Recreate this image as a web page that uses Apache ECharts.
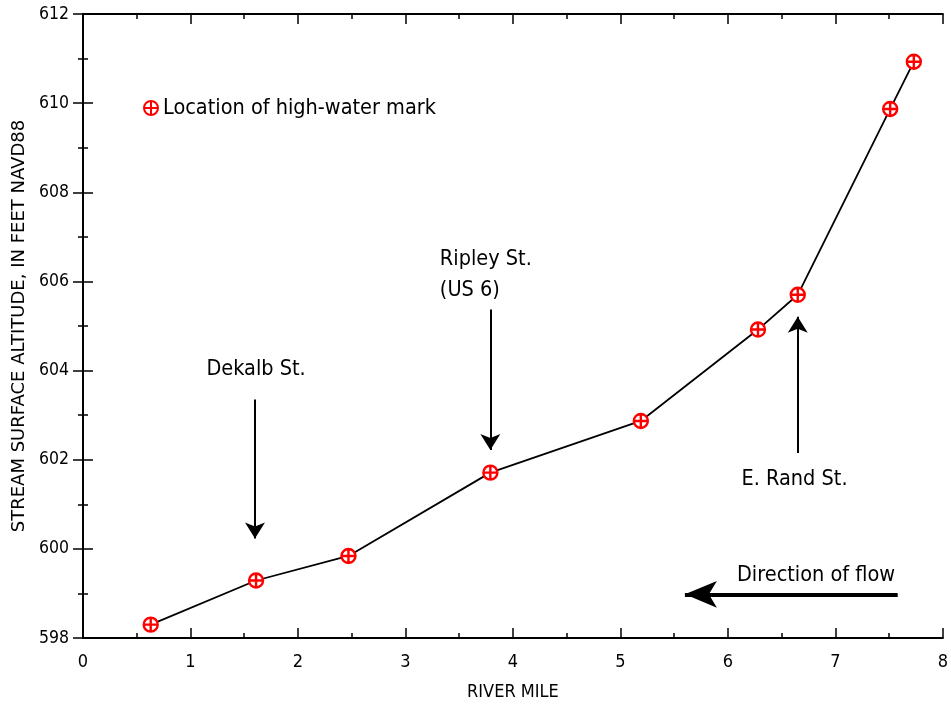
<!DOCTYPE html>
<html><head><meta charset="utf-8">
<script src="https://cdn.jsdelivr.net/npm/echarts@6/dist/echarts.min.js"></script>
<style>html,body{margin:0;padding:0;background:#fff}#c{width:951px;height:710px}</style>
</head><body><div id="c"></div>
<script>
const riverMile = [0.63, 1.61, 2.47, 3.79, 5.19, 6.28, 6.65, 7.51, 7.73];
const altitude  = [598.30, 599.29, 599.84, 601.71, 602.87, 604.92, 605.70, 609.87, 610.93];
const xTicks = [0, 1, 2, 3, 4, 5, 6, 7, 8];
const yTicks = [598, 600, 602, 604, 606, 608, 610, 612];
const seriesName = 'Location of high-water mark';
// annotations: [label, x, yStart, yEnd]
const bridgeArrows = [
  ['Dekalb St.', 1.60, 603.35, 600.23],
  ['Ripley St.', 3.79, 605.37, 602.22],
  ['E. Rand St.', 6.65, 602.15, 605.21]
];
const bridgeLabels = [
  ['Dekalb St.', 1.61, 604.02, 'center'],
  ['Ripley St.\n(US 6)', 3.32, 606.15, 'left'],
  ['E. Rand St.', 6.62, 601.55, 'center']
];
const flowArrow = {x0: 7.58, x1: 5.60, y: 598.98};
const flowLabel = {text: 'Direction of flow', x: 6.82, y: 599.40};

const FONT = '"DejaVu Sans Condensed", sans-serif';
const markerPath = 'path://M-10,0A10,10,0,1,0,10,0A10,10,0,1,0,-10,0ZM0,-10L0,10M-10,0L10,0';

const chart = echarts.init(document.getElementById('c'));
const axisCommon = {
  axisLine: {lineStyle: {color: '#000', width: 2}},
  axisTick: {inside: true, length: 10, lineStyle: {color: '#000', width: 1.5}},
  minorTick: {show: true, splitNumber: 2, length: 5, lineStyle: {color: '#000', width: 1.5}},
  splitLine: {show: false}
};
const txt = {fontFamily: FONT, color: '#000', fontWeight: 'normal'};
chart.setOption({
  animation: false,
  backgroundColor: '#fff',
  textStyle: {fontFamily: FONT},
  grid: {left: 83, right: 8, top: 14, bottom: 72},
  legend: {
    data: [{name: seriesName, icon: markerPath}],
    left: 138, top: 92, itemWidth: 14, itemHeight: 14, itemGap: 9,
    textStyle: Object.assign({fontSize: 21.5}, txt)
  },
  xAxis: [
    Object.assign({type: 'value', min: 0, max: 8, interval: 1, position: 'bottom',
      name: 'RIVER MILE', nameLocation: 'middle', nameGap: 45,
      nameTextStyle: Object.assign({fontSize: 18}, txt),
      axisLabel: Object.assign({fontSize: 18, margin: 15,
        formatter: v => xTicks.includes(v) ? String(v) : ''}, txt)}, axisCommon),
    Object.assign({type: 'value', min: 0, max: 8, interval: 1, position: 'top',
      axisLabel: {show: false}}, axisCommon)
  ],
  yAxis: [
    Object.assign({type: 'value', min: 598, max: 612, interval: 2, position: 'left',
      name: 'STREAM SURFACE ALTITUDE, IN FEET NAVD88', nameLocation: 'middle', nameGap: 55,
      nameTextStyle: Object.assign({}, txt, {fontSize: 18, fontFamily: '"DejaVu Sans", sans-serif'}),
      axisLabel: Object.assign({fontSize: 17.5, margin: 14,
        formatter: v => yTicks.includes(v) ? String(v) : ''}, txt)}, axisCommon),
    Object.assign({type: 'value', min: 598, max: 612, interval: 2, position: 'right',
      axisLabel: {show: false}}, axisCommon)
  ],
  series: [
    {
      name: seriesName, type: 'line',
      data: riverMile.map((x, i) => [x, altitude[i]]),
      lineStyle: {color: '#000', width: 1.8},
      symbol: markerPath, symbolSize: 14, showAllSymbol: true,
      itemStyle: {color: '#ffffff', borderColor: '#ff0000', borderWidth: 2.4},
      z: 5,
      markLine: {
        silent: true, animation: false,
        symbol: ['none', 'arrow'], symbolSize: [15, 16],
        label: {show: false},
        lineStyle: {color: '#000', width: 2, type: 'solid'},
        data: bridgeArrows.map(a => [{coord: [a[1], a[2]]}, {coord: [a[1], a[3]]}])
          .concat([[{coord: [flowArrow.x0, flowArrow.y], lineStyle: {width: 4}, symbolSize: [20, 32]},
                    {coord: [flowArrow.x1, flowArrow.y], symbolSize: [20, 32]}]])
      }
    }
  ]
});

const textItems = bridgeLabels.map(l => ({text: l[0], x: l[1], y: l[2], align: l[3]}))
  .concat([{text: flowLabel.text, x: flowLabel.x, y: flowLabel.y, align: 'center'}]);
chart.setOption({
  graphic: textItems.map(t => {
    const p = chart.convertToPixel({xAxisIndex: 0, yAxisIndex: 0}, [t.x, t.y]);
    return {type: 'text', x: p[0], y: p[1], silent: true, z: 10,
      style: {text: t.text, fill: '#000', font: '21.5px ' + FONT, align: t.align,
        verticalAlign: 'middle', lineHeight: 31}};
  })
});
</script></body></html>
